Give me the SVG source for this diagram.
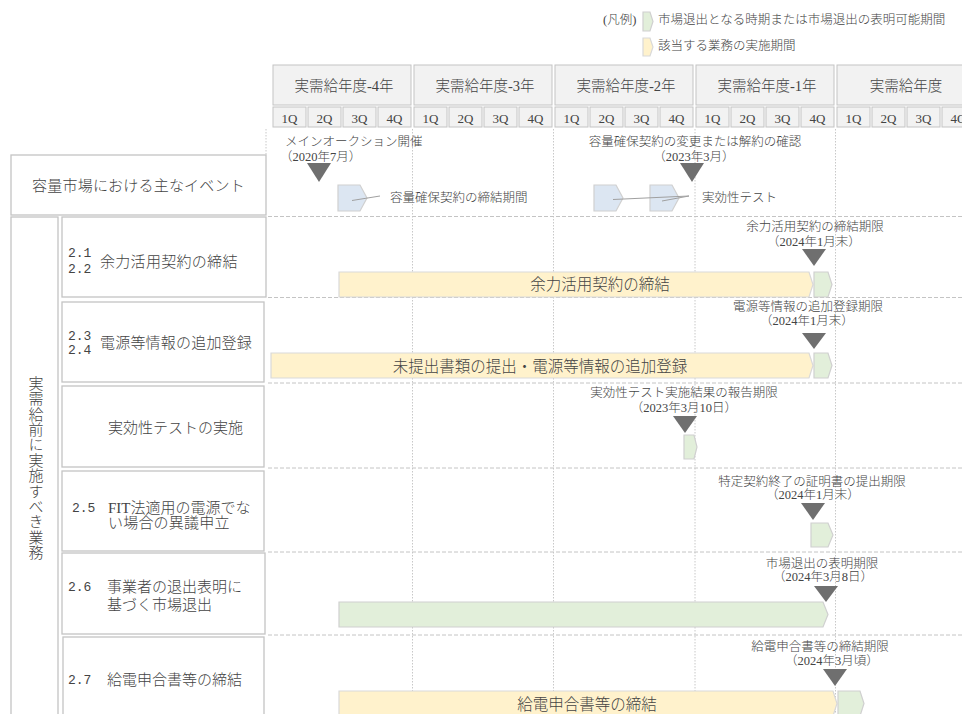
<svg xmlns="http://www.w3.org/2000/svg" width="962" height="714" viewBox="0 0 962 714">
<style>
.t{font-family:"Liberation Serif","Noto Sans CJK JP",sans-serif;fill:#444444;font-weight:300;}
.m{font-family:"Liberation Mono","Noto Sans CJK JP",monospace;fill:#444444;}
.hdr{fill:#f2f2f2;stroke:#c4c4c4;stroke-width:1;}
.box{fill:#ffffff;stroke:#c4c4c4;stroke-width:1.3;}
.grid{stroke:#c8c8c8;stroke-width:1;stroke-dasharray:1.5 1.5;fill:none;}
.dash{stroke:#c4c4c4;stroke-width:1;stroke-dasharray:4 2;fill:none;}
.yel{fill:#fff2cc;stroke:#d9d9d9;stroke-width:1.2;}
.grn{fill:#e2efda;stroke:#d0d0d0;stroke-width:1.2;}
.blu{fill:#dce6f2;stroke:#d0d0d0;stroke-width:1.2;}
.tri{fill:#6f6f6f;}
.conn{stroke:#a0a0a0;stroke-width:1;fill:none;}
</style>

<g id="legend">
<text class="t" x="603" y="20" font-size="12.5" dominant-baseline="central">(凡例)</text>
<path class="grn" d="M643,12 H650 L653,21.5 L650,31 H643 Z"/>
<text class="t" x="658" y="20" font-size="12.5" dominant-baseline="central">市場退出となる時期または市場退出の表明可能期間</text>
<path class="yel" d="M643,38 H650 L653,47 L650,56 H643 Z"/>
<text class="t" x="658" y="46" font-size="12.5" dominant-baseline="central">該当する業務の実施期間</text>
</g>

<g id="header">
<rect class="hdr" x="273" y="65" width="138" height="40"/>
<rect class="hdr" x="414" y="65" width="138" height="40"/>
<rect class="hdr" x="555" y="65" width="138" height="40"/>
<rect class="hdr" x="696" y="65" width="138" height="40"/>
<rect class="hdr" x="837" y="65" width="138" height="40"/>
<g class="t" font-size="14.5" text-anchor="middle" dominant-baseline="central">
<text x="344" y="86">実需給年度-4年</text>
<text x="485" y="86">実需給年度-3年</text>
<text x="626" y="86">実需給年度-2年</text>
<text x="767" y="86">実需給年度-1年</text>
<text x="906" y="86">実需給年度</text>
</g>
<g>
<rect class="hdr" x="273" y="107" width="33" height="20"/><rect class="hdr" x="308" y="107" width="33" height="20"/><rect class="hdr" x="343" y="107" width="33" height="20"/><rect class="hdr" x="378" y="107" width="33" height="20"/>
<rect class="hdr" x="414" y="107" width="33" height="20"/><rect class="hdr" x="449" y="107" width="33" height="20"/><rect class="hdr" x="484" y="107" width="33" height="20"/><rect class="hdr" x="519" y="107" width="33" height="20"/>
<rect class="hdr" x="555" y="107" width="33" height="20"/><rect class="hdr" x="590" y="107" width="33" height="20"/><rect class="hdr" x="625" y="107" width="33" height="20"/><rect class="hdr" x="660" y="107" width="33" height="20"/>
<rect class="hdr" x="696" y="107" width="33" height="20"/><rect class="hdr" x="731" y="107" width="33" height="20"/><rect class="hdr" x="766" y="107" width="33" height="20"/><rect class="hdr" x="801" y="107" width="33" height="20"/>
<rect class="hdr" x="837" y="107" width="33" height="20"/><rect class="hdr" x="872" y="107" width="33" height="20"/><rect class="hdr" x="907" y="107" width="33" height="20"/><rect class="hdr" x="942" y="107" width="33" height="20"/>
</g>
<g class="t" font-size="13" text-anchor="middle" dominant-baseline="central">
<text x="289.5" y="118">1Q</text><text x="324.5" y="118">2Q</text><text x="359.5" y="118">3Q</text><text x="394.5" y="118">4Q</text>
<text x="430.5" y="118">1Q</text><text x="465.5" y="118">2Q</text><text x="500.5" y="118">3Q</text><text x="535.5" y="118">4Q</text>
<text x="571.5" y="118">1Q</text><text x="606.5" y="118">2Q</text><text x="641.5" y="118">3Q</text><text x="676.5" y="118">4Q</text>
<text x="712.5" y="118">1Q</text><text x="747.5" y="118">2Q</text><text x="782.5" y="118">3Q</text><text x="817.5" y="118">4Q</text>
<text x="853.5" y="118">1Q</text><text x="888.5" y="118">2Q</text><text x="923.5" y="118">3Q</text><text x="958.5" y="118">4Q</text>
</g>
</g>

<g id="gridlines">
<line class="grid" x1="266" y1="129" x2="266" y2="155"/>
<line class="grid" x1="412.5" y1="129" x2="412.5" y2="714"/>
<line class="grid" x1="553.5" y1="129" x2="553.5" y2="714"/>
<line class="grid" x1="695" y1="129" x2="695" y2="714"/>
<line class="grid" x1="835.5" y1="129" x2="835.5" y2="714"/>
<line class="dash" x1="268" y1="216.5" x2="962" y2="216.5"/>
<line class="dash" x1="268" y1="297.5" x2="962" y2="297.5"/>
<line class="dash" x1="268" y1="383" x2="962" y2="383"/>
<line class="dash" x1="268" y1="468" x2="962" y2="468"/>
<line class="dash" x1="268" y1="552" x2="962" y2="552"/>
<line class="dash" x1="268" y1="635" x2="962" y2="635"/>
</g>

<g id="node-events-label">
<rect class="box" x="11" y="155" width="255" height="60"/>
<text class="t" x="138.5" y="186" font-size="15" letter-spacing="0.2" text-anchor="middle" dominant-baseline="central">容量市場における主なイベント</text>
</g>

<g id="node-pre-tasks">
<rect class="box" x="11" y="217" width="47" height="510"/>
<text class="t" x="34.5" y="468" font-size="15" letter-spacing="0.4" writing-mode="vertical-rl" text-anchor="middle">実需給前に実施すべき業務</text>
</g>

<g id="node-row1">
<rect class="box" x="62" y="217" width="204" height="80"/>
<text class="m" x="68" y="253" font-size="13" dominant-baseline="central">2.1</text>
<text class="m" x="68" y="269" font-size="13" dominant-baseline="central">2.2</text>
<text class="t" x="100" y="262" font-size="15" letter-spacing="0.3" dominant-baseline="central">余力活用契約の締結</text>
</g>
<g id="node-row2">
<rect class="box" x="62" y="302" width="202" height="80"/>
<text class="m" x="68" y="336" font-size="13" dominant-baseline="central">2.3</text>
<text class="m" x="68" y="350" font-size="13" dominant-baseline="central">2.4</text>
<text class="t" x="100" y="343" font-size="15" letter-spacing="0.2" dominant-baseline="central">電源等情報の追加登録</text>
</g>
<g id="node-row3">
<rect class="box" x="62" y="386" width="202" height="81"/>
<text class="t" x="108" y="428" font-size="15" dominant-baseline="central">実効性テストの実施</text>
</g>
<g id="node-row4">
<rect class="box" x="62" y="471" width="202" height="80"/>
<text class="m" x="72" y="508" font-size="13" dominant-baseline="central">2.5</text>
<text class="t" x="108" y="508" font-size="15" dominant-baseline="central">FIT法適用の電源でな</text>
<text class="t" x="108" y="523" font-size="15" letter-spacing="0.2" dominant-baseline="central">い場合の異議申立</text>
</g>
<g id="node-row5">
<rect class="box" x="62" y="553" width="203" height="81"/>
<text class="m" x="68" y="587" font-size="13" dominant-baseline="central">2.6</text>
<text class="t" x="107" y="587" font-size="15" dominant-baseline="central">事業者の退出表明に</text>
<text class="t" x="107" y="605" font-size="15" dominant-baseline="central">基づく市場退出</text>
</g>
<g id="node-row6">
<rect class="box" x="63" y="637" width="201" height="90"/>
<text class="m" x="68" y="680" font-size="13" dominant-baseline="central">2.7</text>
<text class="t" x="107" y="680" font-size="15" dominant-baseline="central">給電申合書等の締結</text>
</g>

<g id="event-main-auction">
<text class="t" x="285" y="142" font-size="12.5" dominant-baseline="central">メインオークション開催</text>
<text class="t" x="280" y="157" font-size="12.5" dominant-baseline="central">（2020年7月）</text>
<path class="tri" d="M307,163 H331 L319,182 Z"/>
</g>
<g id="event-contract-period">
<path class="blu" d="M338,185 H360 L367,198 L360,211 H338 Z"/>
<text class="t" x="390" y="198" font-size="12.5" dominant-baseline="central">容量確保契約の締結期間</text>
</g>
<g id="event-change">
<text class="t" x="695" y="142" font-size="12.5" text-anchor="middle" dominant-baseline="central">容量確保契約の変更または解約の確認</text>
<text class="t" x="694" y="157" font-size="12.5" text-anchor="middle" dominant-baseline="central">（2023年3月）</text>
<path class="tri" d="M680,163 H704 L692,182 Z"/>
</g>
<g id="event-test">
<path class="blu" d="M594,185 H616 L623,198 L616,211 H594 Z"/>
<path class="blu" d="M650,185 H672 L679,198 L672,211 H650 Z"/>
<text class="t" x="702" y="198" font-size="12.5" dominant-baseline="central">実効性テスト</text>
</g>

<g id="connectors">
<line class="conn" x1="352" y1="200.5" x2="380" y2="196"/>
<line class="conn" x1="613" y1="199.5" x2="689" y2="196"/>
<line class="conn" x1="662" y1="201" x2="689" y2="196"/>
</g>

<g id="bar-row1">
<path class="yel" d="M339,272 H809 L813,284.5 L809,297 H339 Z"/>
<text class="t" x="600" y="284.5" font-size="15.5" text-anchor="middle" dominant-baseline="central">余力活用契約の締結</text>
<path class="grn" d="M814,272 H828 L832,284.5 L828,297 H814 Z"/>
<text class="t" x="815" y="227" font-size="12.5" text-anchor="middle" dominant-baseline="central">余力活用契約の締結期限</text>
<text class="t" x="814" y="242" font-size="12.5" text-anchor="middle" dominant-baseline="central">（2024年1月末）</text>
<path class="tri" d="M802,249 H826 L814,266 Z"/>
</g>
<g id="bar-row2">
<path class="yel" d="M271,353 H809 L813,365.5 L809,378 H271 Z"/>
<text class="t" x="540" y="366" font-size="15.5" text-anchor="middle" dominant-baseline="central">未提出書類の提出・電源等情報の追加登録</text>
<path class="grn" d="M814,353 H828 L832,365.5 L828,378 H814 Z"/>
<text class="t" x="808" y="307" font-size="12.5" text-anchor="middle" dominant-baseline="central">電源等情報の追加登録期限</text>
<text class="t" x="807" y="321" font-size="12.5" text-anchor="middle" dominant-baseline="central">（2024年1月末）</text>
<path class="tri" d="M802,333 H826 L814,349 Z"/>
</g>
<g id="bar-row3">
<path class="grn" d="M684,435 H694 L697,447 L694,459 H684 Z"/>
<text class="t" x="684" y="393" font-size="12.5" text-anchor="middle" dominant-baseline="central">実効性テスト実施結果の報告期限</text>
<text class="t" x="684" y="408" font-size="12.5" text-anchor="middle" dominant-baseline="central">（2023年3月10日）</text>
<path class="tri" d="M673,416 H697 L685,433 Z"/>
</g>
<g id="bar-row4">
<path class="grn" d="M811,523 H828 L833,535 L828,547 H811 Z"/>
<text class="t" x="812" y="482" font-size="12.5" text-anchor="middle" dominant-baseline="central">特定契約終了の証明書の提出期限</text>
<text class="t" x="813" y="495" font-size="12.5" text-anchor="middle" dominant-baseline="central">（2024年1月末）</text>
<path class="tri" d="M801,503 H825 L813,520 Z"/>
</g>
<g id="bar-row5">
<path class="grn" d="M339,602 H823 L828,614.5 L823,627 H339 Z"/>
<text class="t" x="822" y="564" font-size="12.5" text-anchor="middle" dominant-baseline="central">市場退出の表明期限</text>
<text class="t" x="823" y="577" font-size="12.5" text-anchor="middle" dominant-baseline="central">（2024年3月8日）</text>
<path class="tri" d="M814,586 H838 L826,602 Z"/>
</g>
<g id="bar-row6">
<path class="yel" d="M339,691 H833 L837,703.5 L833,716 H339 Z"/>
<text class="t" x="587" y="704" font-size="15.5" text-anchor="middle" dominant-baseline="central">給電申合書等の締結</text>
<path class="grn" d="M838,691 H860 L864,703.5 L860,716 H838 Z"/>
<text class="t" x="820" y="647" font-size="12.5" text-anchor="middle" dominant-baseline="central">給電申合書等の締結期限</text>
<text class="t" x="832" y="661" font-size="12.5" text-anchor="middle" dominant-baseline="central">（2024年3月頃）</text>
<path class="tri" d="M823,669 H847 L835,686 Z"/>
</g>
</svg>
